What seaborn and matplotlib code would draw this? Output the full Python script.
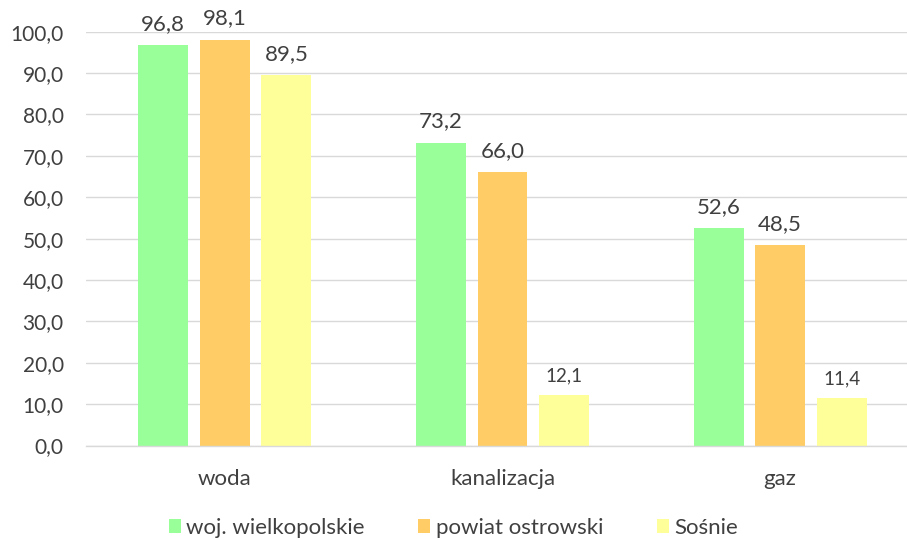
import matplotlib
matplotlib.use("Agg")
import matplotlib.pyplot as plt
import seaborn as sns
import pandas as pd
from matplotlib.patches import Patch

categories = ["woda", "kanalizacja", "gaz"]
series = ["woj. wielkopolskie", "powiat ostrowski", "Sośnie"]
woj = [96.8, 73.2, 52.6]
powiat = [98.1, 66.0, 48.5]
sosnie = [89.5, 12.1, 11.4]
colors = ["#99FF99", "#FFCC66", "#FFFF99"]

rows = []
for s, vals in zip(series, [woj, powiat, sosnie]):
    for c, v in zip(categories, vals):
        rows.append({"cat": c, "series": s, "val": v})
df = pd.DataFrame(rows)

sns.set_style("white")
plt.rcParams["font.family"] = ["Lato", "DejaVu Sans"]
TXT = "#404040"

W, H = 907, 540
fig = plt.figure(figsize=(W / 100, H / 100), dpi=100)
left, right = 86 / W, 919 / W
bottom, top = 1 - 445.5 / H, 1 - 31.7 / H
ax = fig.add_axes([left, bottom, right - left, top - bottom])

sns.barplot(data=df, x="cat", y="val", hue="series", palette=colors,
            order=categories, hue_order=series, width=0.665, gap=0.19,
            saturation=1, ax=ax, legend=False, linewidth=0)

ax.set_xlim(-0.5, 2.5)
ax.set_ylim(0, 100)
ax.set_yticks(range(0, 101, 10))
ax.set_yticklabels([f"{v:.1f}".replace(".", ",") for v in range(0, 101, 10)],
                   fontsize=15, color=TXT)
ax.tick_params(axis="y", length=0, pad=16)
ax.tick_params(axis="x", length=0, pad=17, labelsize=16, labelcolor=TXT)
ax.set_xlabel("")
ax.set_ylabel("")
ax.grid(axis="y", color="#D9D9D9", linewidth=1)
ax.set_axisbelow(True)
for sp in ["left", "right", "top"]:
    ax.spines[sp].set_visible(False)
ax.spines["bottom"].set_color("#D9D9D9")
ax.spines["bottom"].set_linewidth(1)

for cont in ax.containers:
    for bar in cont:
        h = bar.get_height()
        fs = 13.5 if h < 20 else 16
        ax.annotate(f"{h:.1f}".replace(".", ","),
                    (bar.get_x() + bar.get_width() / 2, h),
                    xytext=(0, 8), textcoords="offset points",
                    ha="center", va="bottom", fontsize=fs, color=TXT,
                    annotation_clip=False)

handles = [Patch(facecolor=c, edgecolor="none") for c in colors]
fig.legend(handles, series, loc="center", bbox_to_anchor=(0.5, 1 - 528 / H),
           ncol=3, frameon=False, fontsize=16, labelcolor=TXT,
           handlelength=0.55, handleheight=0.55, handletextpad=0.25,
           columnspacing=2.4)

fig.savefig("out.png", dpi=100)
